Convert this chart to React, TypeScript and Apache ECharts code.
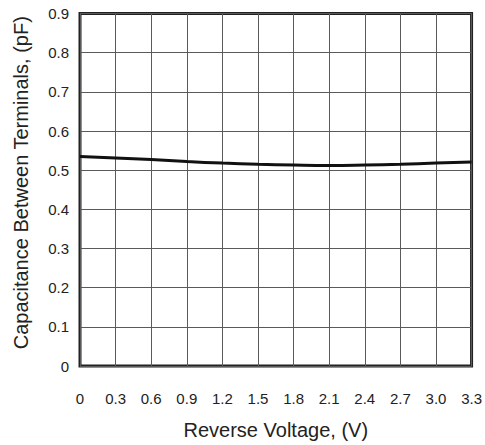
import React, { useEffect, useRef } from "react";
import * as echarts from "echarts";

const voltages = [0, 0.3, 0.6, 0.9, 1.2, 1.5, 1.8, 2.1, 2.4, 2.7, 3.0, 3.3];
const capacitance = [0.535, 0.531, 0.527, 0.522, 0.518, 0.515, 0.513, 0.512, 0.513, 0.515, 0.518, 0.521];
const xTickLabels = ["0", "0.3", "0.6", "0.9", "1.2", "1.5", "1.8", "2.1", "2.4", "2.7", "3.0", "3.3"];

export default function App() {
  const ref = useRef<HTMLDivElement>(null);
  useEffect(() => {
    if (!ref.current) return;
    const chart = echarts.init(ref.current, undefined, { renderer: "svg" });
    const font = "Liberation Sans, Arial, sans-serif";
    chart.setOption({
      animation: false,
      backgroundColor: "#ffffff",
      grid: { left: 80, right: 11, top: 13.5, bottom: 76, show: true, borderColor: "#222", borderWidth: 3, backgroundColor: "transparent" },
      xAxis: {
        type: "value",
        min: 0,
        max: 3.3,
        interval: 0.3,
        name: "Reverse Voltage, (V)",
        nameLocation: "middle",
        nameGap: 54,
        nameTextStyle: { fontSize: 20, color: "#222", fontFamily: font },
        axisLine: { show: false },
        axisTick: { show: false },
        axisLabel: {
          margin: 25,
          fontSize: 15,
          color: "#222",
          fontFamily: font,
          formatter: (v: number) => {
            const i = Math.round(v / 0.3);
            return xTickLabels[i] ?? "";
          },
        },
        splitLine: { show: true, lineStyle: { color: "#5a5a5a", width: 1 } },
      },
      yAxis: {
        type: "value",
        min: 0,
        max: 0.9,
        interval: 0.1,
        name: "Capacitance Between Terminals, (pF)",
        nameLocation: "middle",
        nameGap: 49,
        nameTextStyle: { fontSize: 20, color: "#222", fontFamily: font, padding: [0, 0, 0, 14] },
        axisLine: { show: false },
        axisTick: { show: false },
        axisLabel: {
          margin: 11,
          fontSize: 15,
          color: "#222",
          fontFamily: font,
          formatter: (v: number) => (v === 0 ? "0" : v.toFixed(1)),
        },
        splitLine: { show: true, lineStyle: { color: "#5a5a5a", width: 1 } },
      },
      series: [
        {
          type: "line",
          data: voltages.map((v, i) => [v, capacitance[i]]),
          smooth: true,
          symbol: "none",
          lineStyle: { color: "#111", width: 3 },
          z: 5,
        },
      ],
    });
    return () => chart.dispose();
  }, []);
  return <div ref={ref} style={{ position: "fixed", left: 0, top: 0, width: 485, height: 445 }} />;
}
